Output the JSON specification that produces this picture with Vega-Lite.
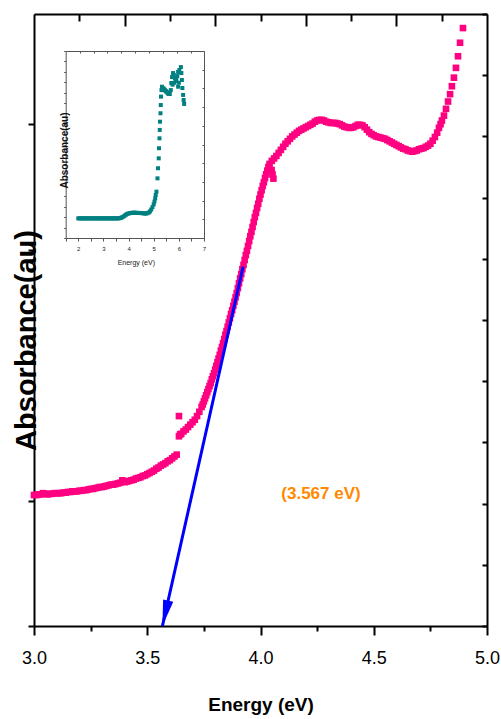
{
"$schema":"https://vega.github.io/schema/vega-lite/v6.json",
"width":453,"height":612,
"autosize":{"type":"none"},
"padding":{"left":34,"top":14,"right":14,"bottom":93},
"background":"white",
"config":{"view":{"stroke":null},"axis":{"grid":false,"domainColor":"#000","tickColor":"#000","labelColor":"#000","titleColor":"#000"}},
"datasets":{
"main":[
{"e":3.00,"a":2.14},{"e":3.01,"a":2.14},{"e":3.02,"a":2.15},{"e":3.03,"a":2.15},{"e":3.04,"a":2.17},{"e":3.05,"a":2.16},{"e":3.06,"a":2.15},{"e":3.07,"a":2.16},{"e":3.08,"a":2.16},{"e":3.09,"a":2.17},
{"e":3.10,"a":2.17},{"e":3.11,"a":2.17},{"e":3.12,"a":2.17},{"e":3.13,"a":2.18},{"e":3.14,"a":2.18},{"e":3.15,"a":2.19},{"e":3.16,"a":2.19},{"e":3.17,"a":2.20},{"e":3.18,"a":2.20},{"e":3.19,"a":2.20},
{"e":3.20,"a":2.21},{"e":3.21,"a":2.21},{"e":3.22,"a":2.22},{"e":3.23,"a":2.22},{"e":3.24,"a":2.23},{"e":3.25,"a":2.24},{"e":3.26,"a":2.24},{"e":3.27,"a":2.25},{"e":3.28,"a":2.26},{"e":3.29,"a":2.27},
{"e":3.30,"a":2.27},{"e":3.31,"a":2.28},{"e":3.32,"a":2.29},{"e":3.33,"a":2.30},{"e":3.34,"a":2.31},{"e":3.35,"a":2.31},{"e":3.36,"a":2.32},{"e":3.37,"a":2.33},{"e":3.38,"a":2.34},{"e":3.39,"a":2.38},
{"e":3.40,"a":2.35},{"e":3.41,"a":2.36},{"e":3.42,"a":2.37},{"e":3.43,"a":2.38},{"e":3.44,"a":2.39},{"e":3.45,"a":2.41},{"e":3.46,"a":2.42},{"e":3.47,"a":2.43},{"e":3.48,"a":2.45},{"e":3.49,"a":2.46},
{"e":3.50,"a":2.48},{"e":3.51,"a":2.50},{"e":3.52,"a":2.52},{"e":3.53,"a":2.54},{"e":3.54,"a":2.57},{"e":3.55,"a":2.59},{"e":3.56,"a":2.62},{"e":3.57,"a":2.64},{"e":3.58,"a":2.66},{"e":3.59,"a":2.69},
{"e":3.60,"a":2.71},{"e":3.61,"a":2.74},{"e":3.62,"a":2.77},{"e":3.63,"a":2.80},{"e":3.64,"a":3.43},{"e":3.64,"a":3.10},{"e":3.645,"a":3.13},
{"e":3.65,"a":3.14},{"e":3.66,"a":3.18},{"e":3.67,"a":3.21},{"e":3.68,"a":3.25},{"e":3.69,"a":3.29},{"e":3.70,"a":3.33},{"e":3.71,"a":3.37},{"e":3.72,"a":3.43},{"e":3.73,"a":3.50},{"e":3.74,"a":3.58},
{"e":3.745,"a":3.62},{"e":3.75,"a":3.67},{"e":3.755,"a":3.72},{"e":3.76,"a":3.77},{"e":3.765,"a":3.82},{"e":3.77,"a":3.87},{"e":3.775,"a":3.92},{"e":3.78,"a":3.97},{"e":3.785,"a":4.03},{"e":3.79,"a":4.08},
{"e":3.795,"a":4.13},{"e":3.80,"a":4.19},{"e":3.805,"a":4.25},{"e":3.81,"a":4.31},{"e":3.815,"a":4.37},{"e":3.82,"a":4.43},{"e":3.825,"a":4.50},{"e":3.83,"a":4.56},{"e":3.835,"a":4.62},{"e":3.84,"a":4.69},
{"e":3.845,"a":4.76},{"e":3.85,"a":4.82},{"e":3.855,"a":4.89},{"e":3.86,"a":4.96},{"e":3.865,"a":5.03},{"e":3.87,"a":5.10},{"e":3.875,"a":5.16},{"e":3.88,"a":5.23},{"e":3.885,"a":5.30},{"e":3.89,"a":5.37},
{"e":3.895,"a":5.44},{"e":3.90,"a":5.52},{"e":3.905,"a":5.60},{"e":3.91,"a":5.68},{"e":3.915,"a":5.75},{"e":3.92,"a":5.83},{"e":3.925,"a":5.90},{"e":3.93,"a":5.98},{"e":3.935,"a":6.06},{"e":3.94,"a":6.13},
{"e":3.945,"a":6.21},{"e":3.95,"a":6.29},{"e":3.955,"a":6.37},{"e":3.96,"a":6.44},{"e":3.965,"a":6.52},{"e":3.97,"a":6.60},{"e":3.975,"a":6.68},{"e":3.98,"a":6.75},{"e":3.985,"a":6.83},{"e":3.99,"a":6.90},
{"e":3.995,"a":6.98},{"e":4.00,"a":7.05},{"e":4.005,"a":7.12},{"e":4.01,"a":7.19},{"e":4.015,"a":7.25},{"e":4.02,"a":7.32},{"e":4.025,"a":7.38},{"e":4.03,"a":7.44},{"e":4.035,"a":7.50},{"e":4.04,"a":7.55},
{"e":4.049,"a":7.45},{"e":4.053,"a":7.38},{"e":4.057,"a":7.31},
{"e":4.05,"a":7.60},{"e":4.06,"a":7.64},{"e":4.07,"a":7.68},{"e":4.08,"a":7.73},{"e":4.09,"a":7.78},{"e":4.10,"a":7.83},{"e":4.11,"a":7.88},{"e":4.12,"a":7.92},{"e":4.13,"a":7.96},{"e":4.14,"a":8.00},
{"e":4.15,"a":8.03},{"e":4.16,"a":8.06},{"e":4.17,"a":8.09},{"e":4.18,"a":8.11},{"e":4.19,"a":8.13},{"e":4.20,"a":8.15},{"e":4.21,"a":8.17},{"e":4.22,"a":8.19},{"e":4.23,"a":8.21},{"e":4.24,"a":8.24},
{"e":4.25,"a":8.26},{"e":4.26,"a":8.27},{"e":4.27,"a":8.27},{"e":4.28,"a":8.26},{"e":4.29,"a":8.24},{"e":4.30,"a":8.23},{"e":4.31,"a":8.22},{"e":4.32,"a":8.22},{"e":4.33,"a":8.22},{"e":4.34,"a":8.21},
{"e":4.35,"a":8.20},{"e":4.36,"a":8.18},{"e":4.37,"a":8.16},{"e":4.38,"a":8.15},{"e":4.39,"a":8.14},{"e":4.40,"a":8.14},{"e":4.41,"a":8.15},{"e":4.42,"a":8.17},{"e":4.43,"a":8.19},{"e":4.44,"a":8.19},
{"e":4.45,"a":8.18},{"e":4.46,"a":8.15},{"e":4.47,"a":8.11},{"e":4.48,"a":8.07},{"e":4.49,"a":8.04},{"e":4.50,"a":8.02},{"e":4.51,"a":8.00},{"e":4.52,"a":7.99},{"e":4.53,"a":7.98},{"e":4.54,"a":7.97},
{"e":4.55,"a":7.96},{"e":4.56,"a":7.94},{"e":4.57,"a":7.92},{"e":4.58,"a":7.90},{"e":4.59,"a":7.88},{"e":4.60,"a":7.86},{"e":4.61,"a":7.84},{"e":4.62,"a":7.82},{"e":4.63,"a":7.80},{"e":4.64,"a":7.79},
{"e":4.65,"a":7.77},{"e":4.66,"a":7.76},{"e":4.67,"a":7.75},{"e":4.68,"a":7.76},{"e":4.69,"a":7.77},{"e":4.70,"a":7.79},{"e":4.71,"a":7.80},{"e":4.72,"a":7.81},{"e":4.73,"a":7.83},{"e":4.74,"a":7.85},
{"e":4.75,"a":7.88},{"e":4.76,"a":7.93},{"e":4.77,"a":7.99},{"e":4.78,"a":8.06},{"e":4.788,"a":8.14},{"e":4.795,"a":8.20},{"e":4.801,"a":8.26},{"e":4.810,"a":8.34},{"e":4.819,"a":8.45},{"e":4.828,"a":8.57},
{"e":4.837,"a":8.69},{"e":4.845,"a":8.82},{"e":4.854,"a":8.96},{"e":4.863,"a":9.12},{"e":4.872,"a":9.31},{"e":4.881,"a":9.53},{"e":4.894,"a":9.77}
],
"inset":[
{"e":2.00,"a":1.05},{"e":2.05,"a":1.05},{"e":2.10,"a":1.05},{"e":2.15,"a":1.05},{"e":2.20,"a":1.05},{"e":2.25,"a":1.05},{"e":2.30,"a":1.05},{"e":2.35,"a":1.05},{"e":2.40,"a":1.05},{"e":2.45,"a":1.05},
{"e":2.50,"a":1.05},{"e":2.55,"a":1.05},{"e":2.60,"a":1.05},{"e":2.65,"a":1.05},{"e":2.70,"a":1.05},{"e":2.75,"a":1.05},{"e":2.80,"a":1.05},{"e":2.85,"a":1.05},{"e":2.90,"a":1.05},{"e":2.95,"a":1.05},
{"e":3.00,"a":1.05},{"e":3.05,"a":1.05},{"e":3.10,"a":1.05},{"e":3.15,"a":1.05},{"e":3.20,"a":1.05},{"e":3.25,"a":1.05},{"e":3.30,"a":1.05},{"e":3.35,"a":1.05},{"e":3.40,"a":1.05},{"e":3.45,"a":1.05},
{"e":3.50,"a":1.05},{"e":3.55,"a":1.05},{"e":3.60,"a":1.05},{"e":3.65,"a":1.06},{"e":3.70,"a":1.08},{"e":3.75,"a":1.11},{"e":3.80,"a":1.15},{"e":3.85,"a":1.20},{"e":3.90,"a":1.25},{"e":3.95,"a":1.29},
{"e":4.00,"a":1.31},{"e":4.05,"a":1.33},{"e":4.10,"a":1.34},{"e":4.15,"a":1.35},{"e":4.20,"a":1.35},{"e":4.25,"a":1.35},{"e":4.30,"a":1.35},{"e":4.35,"a":1.34},{"e":4.40,"a":1.34},{"e":4.45,"a":1.34},
{"e":4.50,"a":1.33},{"e":4.55,"a":1.33},{"e":4.60,"a":1.32},{"e":4.65,"a":1.31},{"e":4.70,"a":1.31},{"e":4.75,"a":1.33},{"e":4.80,"a":1.36},{"e":4.85,"a":1.42},{"e":4.90,"a":1.52},{"e":4.95,"a":1.65},
{"e":5.00,"a":1.80},{"e":5.03,"a":1.95},{"e":5.06,"a":2.12},{"e":5.08,"a":2.30},{"e":5.11,"a":2.48},{"e":5.15,"a":3.19},{"e":5.17,"a":3.73},{"e":5.20,"a":4.26},{"e":5.21,"a":4.80},{"e":5.23,"a":5.33},
{"e":5.24,"a":5.78},{"e":5.25,"a":6.22},{"e":5.27,"a":6.67},{"e":5.28,"a":7.11},{"e":5.29,"a":7.56},{"e":5.31,"a":7.91},{"e":5.33,"a":8.09},{"e":5.36,"a":8.02},{"e":5.39,"a":7.99},{"e":5.42,"a":7.95},
{"e":5.45,"a":7.90},{"e":5.48,"a":7.86},{"e":5.51,"a":7.82},{"e":5.54,"a":7.78},{"e":5.57,"a":7.74},{"e":5.60,"a":7.70},{"e":5.64,"a":7.70},{"e":5.68,"a":7.91},{"e":5.70,"a":8.29},{"e":5.73,"a":8.61},
{"e":5.77,"a":8.82},{"e":5.80,"a":8.72},{"e":5.84,"a":8.56},{"e":5.87,"a":8.40},{"e":5.90,"a":8.45},{"e":5.94,"a":8.66},{"e":5.97,"a":8.88},{"e":6.02,"a":8.98},{"e":6.08,"a":9.14},{"e":6.10,"a":8.82},
{"e":6.12,"a":8.45},{"e":6.14,"a":8.02},{"e":6.17,"a":7.65},{"e":6.19,"a":7.38},{"e":6.21,"a":7.17},{"e":5.75,"a":8.20},{"e":5.82,"a":8.30},{"e":5.97,"a":8.09},{"e":6.00,"a":8.30}
],
"arrow":[{"e":3.923,"a":5.87},{"e":3.567,"a":0}],
"tip":[{"e":3.567,"a":0}],
"note":[{"e":4.267,"a":2.16,"t":"(3.567 eV)"}]
},
"resolve":{"scale":{"x":"independent","y":"independent"}},
"layer":[
{"data":{"name":"main"},"mark":{"type":"square","size":44,"color":"#ff0080","opacity":1},
 "encoding":{
  "x":{"field":"e","type":"quantitative","scale":{"domain":[3,5],"nice":false,"zero":false},
   "axis":{"orient":"bottom","values":[3,3.5,4,4.5,5],"format":".1f","tickSize":9,"tickWidth":2,"domainWidth":2,"labelFont":"Liberation Sans Narrow, Arial Narrow, Liberation Sans, sans-serif","labelFontSize":18,"labelPadding":14,"labelFlush":false,"labelOverlap":false,
    "title":"Energy (eV)","titleFont":"Liberation Sans Narrow, Arial Narrow, Liberation Sans, sans-serif","titleFontSize":19,"titleFontWeight":"bold","titleBaseline":"alphabetic","titleY":84,"titleX":226.5,"titleAlign":"center"}},
  "y":{"field":"a","type":"quantitative","scale":{"domain":[0,10],"nice":false,"zero":false},
   "axis":{"orient":"left","values":[0,2.05,4.1,6.15,8.2],"labels":false,"tickSize":6,"tickWidth":2,"domainWidth":2,
    "title":"Absorbance(au)","titleFont":"Liberation Sans, sans-serif","titleFontSize":29,"titleFontWeight":"bold","titleAngle":270,"titleBaseline":"alphabetic","titleX":1,"titleY":326,"titleAlign":"center"}}}},
{"data":{"name":"tip"},"mark":{"type":"square","opacity":0},
 "encoding":{
  "x":{"field":"e","type":"quantitative","scale":{"domain":[3,5],"nice":false,"zero":false},
   "axis":{"orient":"bottom","values":[3.25,3.75,4.25,4.75],"labels":false,"domain":false,"tickSize":5,"tickWidth":2,"title":null}},
  "y":{"field":"a","type":"quantitative","scale":{"domain":[0,10],"nice":false,"zero":false},
   "axis":{"orient":"right","values":[0,1,2,3,4,5,6,7,8,9,10],"labels":false,"tickSize":-5,"tickWidth":2,"domainWidth":2,"title":null}}}},
{"data":{"name":"tip"},"mark":{"type":"square","opacity":0},
 "encoding":{
  "x":{"field":"e","type":"quantitative","scale":{"domain":[3,5],"nice":false,"zero":false},
   "axis":{"orient":"top","values":[3.4,3.8,4.2,4.6],"labels":false,"tickSize":-12,"tickWidth":2,"domainWidth":2,"title":null}},
  "y":{"field":"a","type":"quantitative","scale":{"domain":[0,10],"nice":false,"zero":false},"axis":null}}},
{"data":{"name":"tip"},"mark":{"type":"square","opacity":0},
 "encoding":{
  "x":{"field":"e","type":"quantitative","scale":{"domain":[3,5],"nice":false,"zero":false},
   "axis":{"orient":"top","values":[3.2,3.6,4.0,4.4,4.8],"labels":false,"domain":false,"tickSize":-7,"tickWidth":2,"title":null}},
  "y":{"field":"a","type":"quantitative","scale":{"domain":[0,10],"nice":false,"zero":false},"axis":null}}},
{"data":{"name":"arrow"},"mark":{"type":"line","color":"#0000ff","strokeWidth":3},
 "encoding":{
  "x":{"field":"e","type":"quantitative","scale":{"domain":[3,5],"nice":false,"zero":false},"axis":null},
  "y":{"field":"a","type":"quantitative","scale":{"domain":[0,10],"nice":false,"zero":false},"axis":null}}},
{"data":{"name":"tip"},"mark":{"type":"point","shape":"M0,0L-0.2,-1L0.2,-1Z","filled":true,"size":2704,"angle":12.8,"color":"#0000ff","opacity":1,"strokeWidth":0},
 "encoding":{
  "x":{"field":"e","type":"quantitative","scale":{"domain":[3,5],"nice":false,"zero":false},"axis":null},
  "y":{"field":"a","type":"quantitative","scale":{"domain":[0,10],"nice":false,"zero":false},"axis":null}}},
{"data":{"name":"note"},"mark":{"type":"text","font":"Liberation Sans Narrow, Arial Narrow, Liberation Sans, sans-serif","fontSize":17,"fontWeight":"bold","color":"#ff8a00","align":"center","baseline":"middle"},
 "encoding":{
  "x":{"field":"e","type":"quantitative","scale":{"domain":[3,5],"nice":false,"zero":false},"axis":null},
  "y":{"field":"a","type":"quantitative","scale":{"domain":[0,10],"nice":false,"zero":false},"axis":null},
  "text":{"field":"t"}}},
{"data":{"name":"inset"},"mark":{"type":"square","size":16,"color":"#008080","opacity":1},
 "encoding":{
  "x":{"field":"e","type":"quantitative","scale":{"domain":[1.5,7],"range":[31.7,170],"nice":false,"zero":false},
   "axis":{"orient":"bottom","offset":-388,"values":[1.5,2,2.5,3,3.5,4,4.5,5,5.5,6,6.5,7],"labelExpr":"datum.value % 1 === 0 ? format(datum.value, 'd') : ''","tickSize":3,"tickWidth":1,"domainWidth":1,"domainColor":"#555","tickColor":"#555","labelColor":"#222","labelFontSize":6,"labelPadding":4.4,"labelFlush":false,"labelOverlap":false,
    "title":"Energy (eV)","titleFont":"Liberation Sans Narrow, Arial Narrow, Liberation Sans, sans-serif","titleFontSize":7,"titleFontWeight":"normal","titleColor":"#222","titleBaseline":"alphabetic","titleX":101.8,"titleY":26.5,"titleAlign":"center"}},
  "y":{"field":"a","type":"quantitative","scale":{"domain":[0,10],"range":[224,37],"nice":false,"zero":false},
   "axis":{"orient":"left","offset":-31.7,"values":[0,0.556,1.111,1.667,2.222,2.778,3.333,3.889,4.444,5,5.556,6.111,6.667,7.222,7.778,8.333,8.889,9.444,10],"labels":false,"tickSize":2,"tickWidth":1,"domainWidth":1,"domainColor":"#555","tickColor":"#555",
    "title":"Absorbance(au)","titleFont":"Liberation Sans, sans-serif","titleFontSize":10,"titleFontWeight":"bold","titleColor":"#111","titleAngle":270,"titleBaseline":"alphabetic","titleX":1.3,"titleY":136,"titleAlign":"center"}}}},
{"data":{"name":"tip"},"mark":{"type":"square","opacity":0},
 "encoding":{
  "x":{"field":"e","type":"quantitative","scale":{"domain":[1.5,7],"range":[31.7,170],"nice":false,"zero":false},
   "axis":{"orient":"top","offset":-37,"values":[2.053,2.606,3.159,3.712,4.265,4.818,5.371,5.924,6.477],"labels":false,"tickSize":-2,"tickWidth":1,"domainWidth":1,"domainColor":"#555","tickColor":"#555","title":null}},
  "y":{"field":"a","type":"quantitative","scale":{"domain":[0,10],"range":[224,37],"nice":false,"zero":false},
   "axis":{"orient":"right","offset":-283,"values":[0,1,2,3,4,5,6,7,8,9,10],"labels":false,"tickSize":-2,"tickWidth":1,"domainWidth":1,"domainColor":"#555","tickColor":"#555","title":null}}}}
]
}
